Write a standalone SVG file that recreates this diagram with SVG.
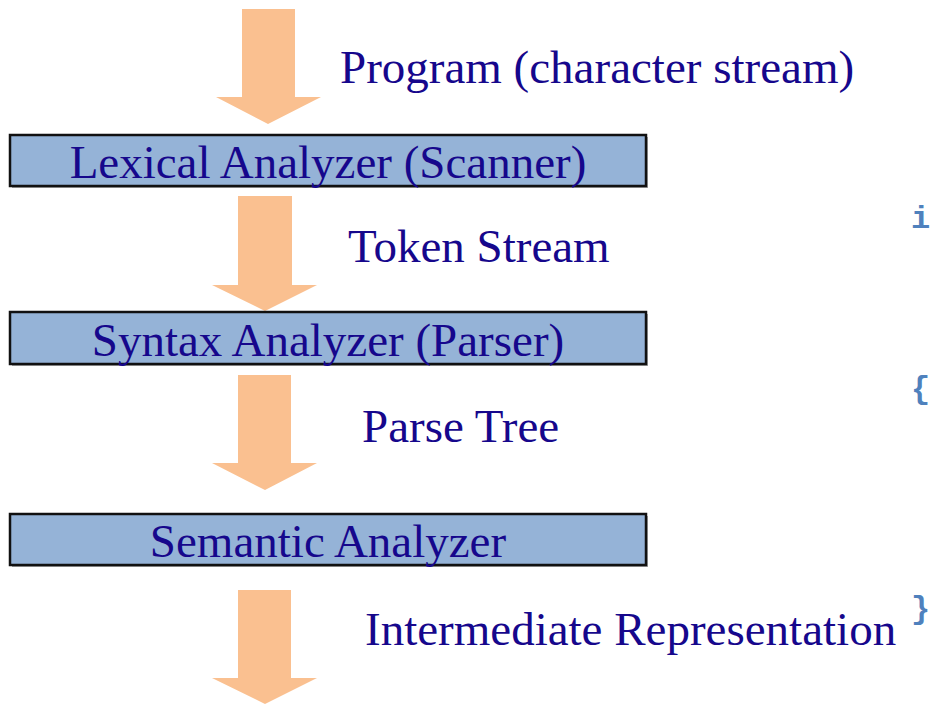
<svg xmlns="http://www.w3.org/2000/svg" width="930" height="704" viewBox="0 0 930 704">
  <style>
    .stage { fill: #95b3d7; stroke: #111111; stroke-width: 2.5; }
    .shadow { fill: #a6a6a6; }
    .flow { fill: #fac090; }
    .label { font-family: "Liberation Serif", "Times New Roman", serif; font-size: 47px; fill: #16078c; }
    .code { font-family: "Liberation Mono", "Courier New", monospace; font-size: 32px; font-weight: bold; fill: #4f81bd; }
  </style>
  <rect width="930" height="704" fill="#ffffff"/>

  <!-- flow arrows between the stages -->
  <g id="connectors">
    <polygon class="flow" points="242,9 295,9 295,97 321,97 268,124 216,97 242,97"/>
    <polygon class="flow" points="238,196 292,196 292,285 317,285 265,311 212,285 238,285"/>
    <polygon class="flow" points="238,375 291,375 291,463 317,463 265,490 212,463 238,463"/>
    <polygon class="flow" points="238,590 291,590 291,678 317,678 265,704 212,678 238,678"/>
  </g>

  <!-- flow labels -->
  <g id="edge-labels">
    <text class="label" x="340" y="83">Program (character stream)</text>
    <text class="label" x="348" y="262">Token Stream</text>
    <text class="label" x="362" y="442">Parse Tree</text>
    <text class="label" x="365" y="645">Intermediate Representation</text>
  </g>

  <g id="lexical-analyzer">
    <rect class="shadow" x="12" y="137" width="636" height="51"/>
    <rect class="stage" x="10" y="135" width="636" height="51"/>
    <text class="label" x="328" y="178" text-anchor="middle">Lexical Analyzer (Scanner)</text>
  </g>

  <g id="syntax-analyzer">
    <rect class="shadow" x="12" y="314" width="636" height="52"/>
    <rect class="stage" x="10" y="312" width="636" height="52"/>
    <text class="label" x="328" y="356" text-anchor="middle">Syntax Analyzer (Parser)</text>
  </g>

  <g id="semantic-analyzer">
    <rect class="shadow" x="12" y="516" width="636" height="51"/>
    <rect class="stage" x="10" y="514" width="636" height="51"/>
    <text class="label" x="328" y="557" text-anchor="middle">Semantic Analyzer</text>
  </g>

  <!-- code fragment at the right edge -->
  <g id="code-fragment">
    <text class="code" x="911" y="228">i</text>
    <text class="code" x="911" y="398">{</text>
    <text class="code" x="911" y="618">}</text>
  </g>
</svg>
